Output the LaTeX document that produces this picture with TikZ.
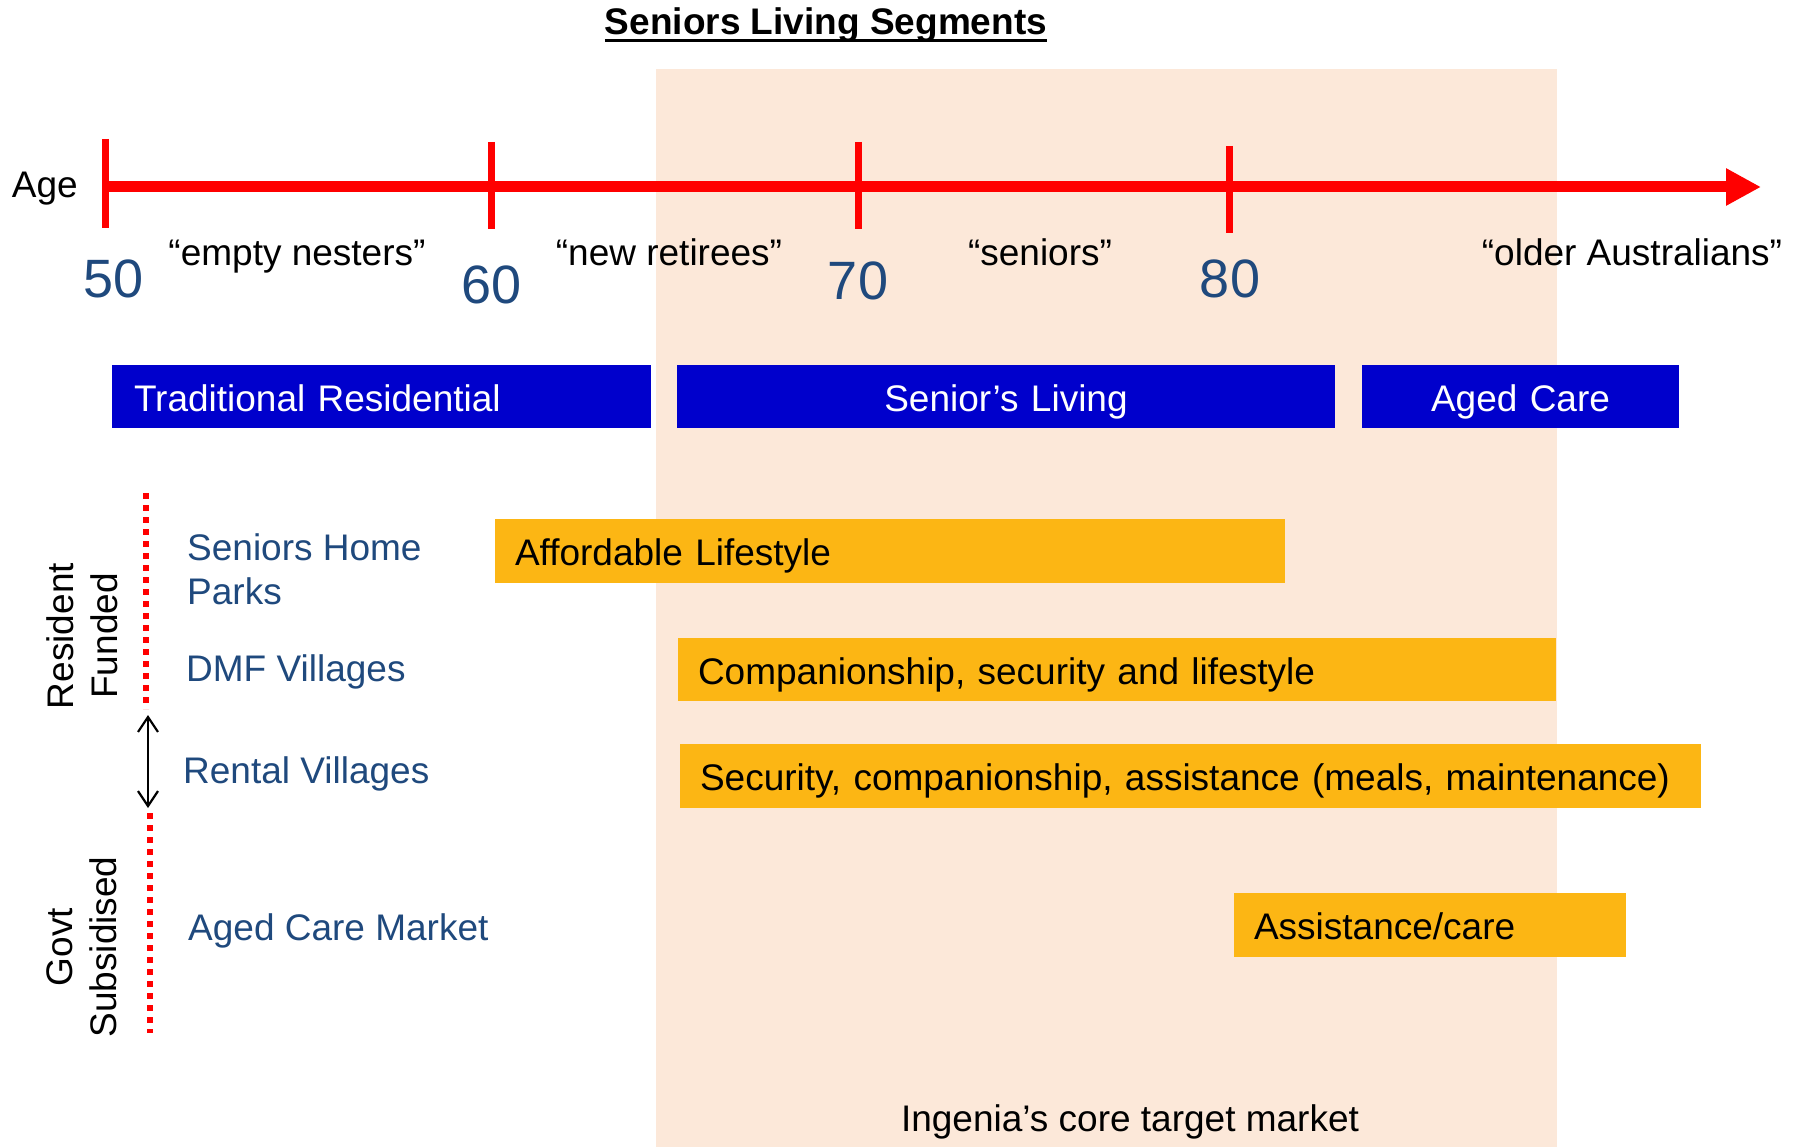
\documentclass[tikz,border=0pt]{standalone}
\usepackage{fontspec}
\setmainfont{Liberation Sans}
\usetikzlibrary{arrows.meta}
\definecolor{peach}{RGB}{252,232,217}
\definecolor{axisred}{RGB}{255,0,0}
\definecolor{numblue}{RGB}{31,73,125}
\definecolor{boxblue}{RGB}{0,0,204}
\definecolor{boxorange}{RGB}{252,182,20}
\begin{document}
\begin{tikzpicture}[x=1pt,y=-1pt,
  txt/.style={font=\fontsize{37}{44}\selectfont, inner sep=0pt},
  lbl/.style={txt, text=numblue, anchor=base west},
  num/.style={font=\fontsize{54}{60}\selectfont, text=numblue, inner sep=0pt},
  segbox/.style={fill=boxblue, text=white, font=\fontsize{37}{44}\selectfont,
    minimum height=63pt, inner ysep=0pt, inner xsep=22pt, text height=29.5pt, text depth=0pt},
  barbox/.style={fill=boxorange, text=black, font=\fontsize{37}{44}\selectfont,
    minimum height=64pt, inner ysep=0pt, inner xsep=20pt, align=left, text height=29.5pt, text depth=0pt},
  tickline/.style={draw=axisred, line width=7pt},
  dotline/.style={draw=axisred, line width=6pt, dash pattern=on 6pt off 6pt}
]
\useasboundingbox (0,0) rectangle (1798,1147);
\fill[peach] (656,69) rectangle (1557,1147);

% title
\node[txt, anchor=base, font=\fontsize{37}{44}\selectfont\bfseries] (title) at (826,35) {Seniors Living Segments};
\draw[line width=3pt] ([yshift=-5.5pt]title.base west) -- ([yshift=-5.5pt]title.base east);

% axis
\node[txt, anchor=base east] (age) at (78,198) {Age};
\coordinate (a50) at (104,187);
\coordinate (aend) at (1761,187);
\draw[axisred, line width=11pt, -{Triangle[length=35pt,width=35pt]}] (a50) -- (aend);
\coordinate (t50a) at (105,139); \coordinate (t50b) at (105,228);
\coordinate (t60a) at (491,142); \coordinate (t60b) at (491,229);
\coordinate (t70a) at (858,142); \coordinate (t70b) at (858,229);
\coordinate (t80a) at (1229,146); \coordinate (t80b) at (1229,233);
\draw[tickline] (t50a) -- (t50b);
\draw[tickline] (t60a) -- (t60b);
\draw[tickline] (t70a) -- (t70b);
\draw[tickline] (t80a) -- (t80b);

\node[num] (n50) at (114,279) {50};
\node[num] (n60) at (492,285) {60};
\node[num] (n70) at (858,281) {70};
\node[num] (n80) at (1230,279) {80};

\node[txt, anchor=base] (q1) at (297,266) {“empty nesters”};
\node[txt, anchor=base] (q2) at (669,266) {“new retirees”};
\node[txt, anchor=base] (q3) at (1040,266) {“seniors”};
\node[txt, anchor=base] (q4) at (1632,266) {“older Australians”};

% segment boxes
\node[segbox, text width=495pt, align=left] (trad) at (381.5,396.5) {Traditional Residential};
\node[segbox, text width=614pt, align=center] (senliv) at (1006,396.5) {Senior’s Living};
\node[segbox, text width=273pt, align=center] (agedc) at (1520.5,396.5) {Aged Care};

% bars
\node[barbox, text width=750pt] (aff) at (890,551) {Affordable Lifestyle};
\node[barbox, text width=838pt, minimum height=63pt] (comp) at (1117,669.5) {Companionship, security and lifestyle};
\node[barbox, text width=981pt] (secu) at (1190.5,776) {Security, companionship, assistance (meals, maintenance)};
\node[barbox, text width=352pt] (asst) at (1430,925) {Assistance/care};

% left labels
\node[lbl] (shp1) at (187,560) {Seniors Home};
\node[lbl] (shp2) at (187,604) {Parks};
\node[lbl] (dmf) at (186,681) {DMF Villages};
\node[lbl] (rent) at (183,783) {Rental Villages};
\node[lbl] (acm) at (188,940) {Aged Care Market};

% rotated side labels
\node[txt, rotate=90, align=center] (resf) at (82,636) {Resident\\Funded};
\node[txt, rotate=90, align=center] (govs) at (82,947) {Govt\\Subsidised};

% dotted lines and double arrow
\coordinate (d1a) at (146,493); \coordinate (d1b) at (146,709);
\coordinate (d2a) at (150,813); \coordinate (d2b) at (150,1033);
\draw[dotline] (d1a) -- (d1b);
\draw[dotline] (d2a) -- (d2b);
\coordinate (ar1) at (148,715); \coordinate (ar2) at (148,808);
\draw[line width=2.2pt, {Straight Barb[length=15pt,width=20pt]}-{Straight Barb[length=15pt,width=20pt]}] (ar1) -- (ar2);

% bottom caption
\node[txt, anchor=base] (core) at (1130,1131) {Ingenia’s core target market};
\end{tikzpicture}
\end{document}
